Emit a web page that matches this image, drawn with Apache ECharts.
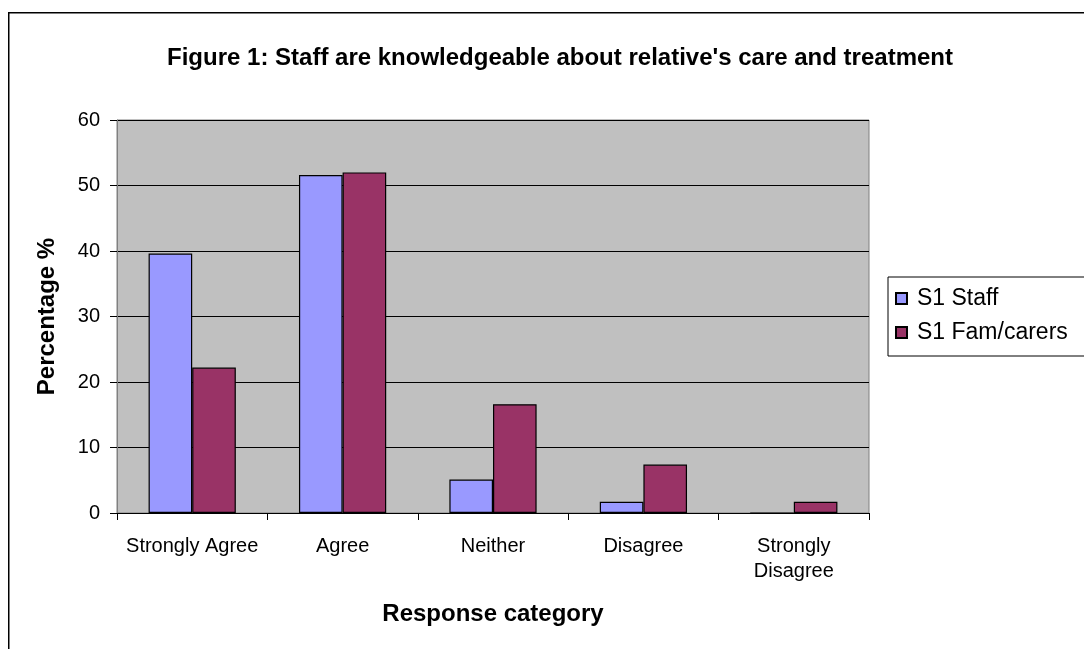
<!DOCTYPE html>
<html>
<head>
<meta charset="utf-8">
<script src="https://cdn.jsdelivr.net/npm/echarts@6/dist/echarts.min.js"></script>
<style>
html,body{margin:0;padding:0;background:#fff;}
#chart{width:1084px;height:649px;}
</style>
</head>
<body>
<div id="chart"></div>
<script>
const categories = ['Strongly Agree', 'Agree', 'Neither', 'Disagree', 'Strongly\nDisagree'];
const staffValues = [39.6, 51.6, 5.1, 1.7, 0];
const famValues = [22.2, 52.0, 16.6, 7.4, 1.7];
const seriesNames = ['S1 Staff', 'S1 Fam/carers'];
const titleText = "Figure 1: Staff are knowledgeable about relative's care and treatment";
const yAxisTitle = 'Percentage %';
const xAxisTitle = 'Response category';

const FONT = '"Liberation Sans", Arial, sans-serif';
const chart = echarts.init(document.getElementById('chart'), null, {renderer: 'canvas'});
chart.setOption({
  animation: false,
  backgroundColor: '#ffffff',
  textStyle: {fontFamily: FONT},
  graphic: [{
    type: 'rect', left: 8, top: 12, z: -1,
    shape: {width: 1100, height: 660},
    style: {fill: '#ffffff', stroke: '#000000', lineWidth: 1.5}
  }],
  title: {
    text: titleText,
    left: 555, top: 41, textAlign: 'center',
    textStyle: {fontFamily: FONT, fontWeight: 'bold', fontSize: 24, color: '#000'}
  },
  legend: {
    orient: 'vertical',
    left: 888, top: 277,
    padding: [10, 30, 12, 7],
    itemGap: 11,
    itemWidth: 11, itemHeight: 11,
    icon: 'rect',
    borderColor: '#000', borderWidth: 1,
    textStyle: {fontFamily: FONT, fontSize: 23, color: '#000', padding: [0, 0, 0, 5]},
    data: seriesNames
  },
  grid: {
    left: 117, right: 215, top: 120, bottom: 136,
    show: true, backgroundColor: '#C0C0C0', borderColor: '#808080', borderWidth: 1
  },
  xAxis: {
    type: 'category',
    data: categories,
    name: xAxisTitle,
    nameLocation: 'middle',
    nameGap: 89,
    nameTextStyle: {fontFamily: FONT, fontWeight: 'bold', fontSize: 24, color: '#000'},
    axisLine: {lineStyle: {color: '#000', width: 1}},
    axisTick: {show: true, length: 7, lineStyle: {color: '#000'}},
    axisLabel: {fontFamily: FONT, fontSize: 20, color: '#000', margin: 21, lineHeight: 25, interval: 0}
  },
  yAxis: {
    type: 'value',
    min: 0, max: 60, interval: 10,
    name: yAxisTitle,
    nameLocation: 'middle',
    nameGap: 58,
    nameRotate: 90,
    nameTextStyle: {fontFamily: FONT, fontWeight: 'bold', fontSize: 24, color: '#000'},
    axisLine: {show: true, lineStyle: {color: '#808080', width: 1}},
    axisTick: {show: true, length: 7, lineStyle: {color: '#000'}},
    axisLabel: {fontFamily: FONT, fontSize: 20, color: '#000', margin: 17},
    splitLine: {show: true, lineStyle: {color: '#000', width: 1}}
  },
  series: [{
    name: seriesNames[0],
    type: 'bar',
    data: staffValues,
    barGap: '0%',
    barCategoryGap: '42%',
    itemStyle: {color: '#9999FF', borderColor: '#000', borderWidth: 1.2}
  }, {
    name: seriesNames[1],
    type: 'bar',
    data: famValues,
    barGap: '0%',
    barCategoryGap: '42%',
    itemStyle: {color: '#993366', borderColor: '#000', borderWidth: 1.2}
  }]
});
</script>
</body>
</html>
